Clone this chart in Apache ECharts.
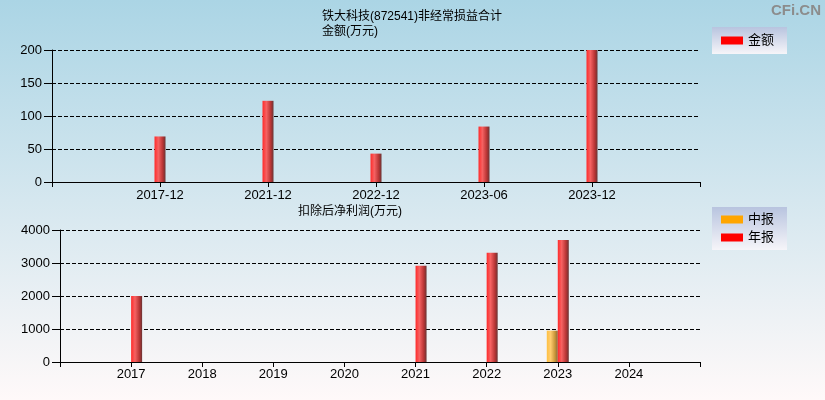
<!DOCTYPE html>
<html>
<head>
<meta charset="utf-8">
<script src="https://cdn.jsdelivr.net/npm/echarts@6/dist/echarts.min.js"></script>
<style>
  html, body { margin: 0; padding: 0; }
  #chart { width: 825px; height: 400px; }
</style>
</head>
<body>
<div id="chart"></div>
<script>
// 非经常损益合计 (万元)
const topCategories = ["2017-12", "2021-12", "2022-12", "2023-06", "2023-12"];
const topValues = [69, 123, 43, 84, 200];

// 扣除后净利润 (万元)
const years = ["2017", "2018", "2019", "2020", "2021", "2022", "2023", "2024"];
const interimValues = ["-", "-", "-", "-", "-", "-", 950, "-"];
const annualValues = [2000, "-", "-", "-", 2920, 3310, 3700, "-"];

const FONT = "'Liberation Sans', 'Noto Sans CJK SC', sans-serif";

// axis ends are empty slots so the bars sit away from the edges
const pad = (arr) => [""].concat(arr, [""]);
const padData = (arr) => ["-"].concat(arr, ["-"]);

const redBar = {
  type: "linear", x: 0, y: 0, x2: 1, y2: 0,
  colorStops: [
    { offset: 0, color: "#ff2a2a" },
    { offset: 0.35, color: "#f66262" },
    { offset: 0.75, color: "#b83434" },
    { offset: 1, color: "#6a3434" }
  ]
};
const orangeBar = {
  type: "linear", x: 0, y: 0, x2: 1, y2: 0,
  colorStops: [
    { offset: 0, color: "#ffc040" },
    { offset: 0.35, color: "#ffcc70" },
    { offset: 0.75, color: "#c89438" },
    { offset: 1, color: "#86693a" }
  ]
};
const legendBg = {
  type: "linear", x: 0, y: 0, x2: 0, y2: 1,
  colorStops: [
    { offset: 0, color: "#b8c4df" },
    { offset: 1, color: "#f6f5f9" }
  ]
};

const chart = echarts.init(document.getElementById("chart"));

const yAxisCommon = {
  type: "value",
  min: 0,
  axisLine: { show: true, lineStyle: { color: "#000", width: 1 } },
  axisTick: { show: true, length: 8, lineStyle: { color: "#000" } },
  axisLabel: { color: "#000", fontSize: 13, fontFamily: FONT, margin: 10,
    formatter: (v) => String(v) },
  splitLine: { show: true, lineStyle: { color: "#000", type: [4, 2], width: 1 } }
};
const xAxisCommon = {
  type: "category",
  boundaryGap: false,
  axisLine: { show: true, lineStyle: { color: "#000", width: 1 } },
  axisTick: { show: true, length: 5, interval: 0, lineStyle: { color: "#000" } },
  axisLabel: { color: "#000", fontSize: 13, fontFamily: FONT, margin: 7, interval: 0 },
  splitLine: { show: false }
};

chart.setOption({
  animation: false,
  backgroundColor: {
    type: "linear", x: 0, y: 0, x2: 0, y2: 1,
    colorStops: [
      { offset: 0, color: "#abd5e5" },
      { offset: 1, color: "#fff9f9" }
    ]
  },
  title: [
    { text: "铁大科技(872541)非经常损益合计", left: 322, top: 11, padding: 0,
      textStyle: { fontSize: 12, fontWeight: "normal", color: "#000", fontFamily: FONT } },
    { text: "金额(万元)", left: 322, top: 26, padding: 0,
      textStyle: { fontSize: 12, fontWeight: "normal", color: "#000", fontFamily: FONT } },
    { text: "扣除后净利润(万元)", left: 298, top: 206, padding: 0,
      textStyle: { fontSize: 12, fontWeight: "normal", color: "#000", fontFamily: FONT } }
  ],
  graphic: [
    { type: "text", right: 4, top: 3,
      style: { text: "CFi.CN", fill: "#8c8c8c", font: "bold 15px " + FONT } }
  ],
  legend: [
    {
      left: 712, top: 27, orient: "vertical", icon: "rect",
      padding: [7, 13, 7, 9], itemWidth: 22, itemHeight: 8, itemGap: 4,
      backgroundColor: legendBg,
      textStyle: { fontSize: 13, color: "#000", fontFamily: FONT },
      data: [{ name: "金额", itemStyle: { color: "#ff0000" } }]
    },
    {
      left: 712, top: 207, orient: "vertical", icon: "rect",
      padding: [6, 13, 6, 9], itemWidth: 22, itemHeight: 8, itemGap: 5,
      backgroundColor: legendBg,
      textStyle: { fontSize: 13, color: "#000", fontFamily: FONT },
      data: [
        { name: "中报", itemStyle: { color: "#ffa500" } },
        { name: "年报", itemStyle: { color: "#ff0000" } }
      ]
    }
  ],
  grid: [
    { left: 52, right: 125, top: 50, height: 132 },
    { left: 60, right: 125, top: 230, height: 132 }
  ],
  xAxis: [
    Object.assign({}, xAxisCommon, { gridIndex: 0, data: pad(topCategories) }),
    Object.assign({}, xAxisCommon, { gridIndex: 1, data: pad(years),
      axisLabel: Object.assign({}, xAxisCommon.axisLabel, { margin: 6 }) })
  ],
  yAxis: [
    Object.assign({}, yAxisCommon, { gridIndex: 0, max: 200, interval: 50 }),
    Object.assign({}, yAxisCommon, { gridIndex: 1, max: 4000, interval: 1000 })
  ],
  series: [
    {
      name: "金额", type: "bar", xAxisIndex: 0, yAxisIndex: 0,
      barWidth: 11, itemStyle: { color: redBar },
      data: padData(topValues)
    },
    {
      name: "中报", type: "bar", xAxisIndex: 1, yAxisIndex: 1,
      barWidth: 11, barGap: 0, itemStyle: { color: orangeBar },
      data: padData(interimValues)
    },
    {
      name: "年报", type: "bar", xAxisIndex: 1, yAxisIndex: 1,
      barWidth: 11, barGap: 0, itemStyle: { color: redBar },
      data: padData(annualValues)
    }
  ]
});
</script>
</body>
</html>
